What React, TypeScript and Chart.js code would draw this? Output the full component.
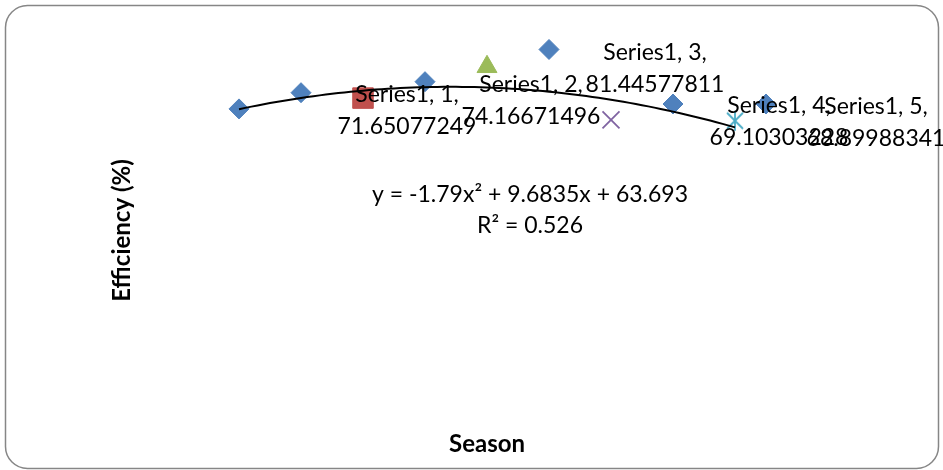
import React, { useEffect, useRef } from "react";
import { Chart, registerables } from "chart.js";

Chart.register(...registerables);

// ---- data ----
const SERIES_NAME = "Series1";
const seasons = [1, 2, 3, 4, 5];
const efficiency = [71.65077249, 74.16671496, 81.44577811, 69.10303228, 68.89988341];
const extraSeasons = [1.5, 2.5, 3.5, 4.5, 5.25];
const extraEfficiency = [75.42, 77.98, 85.47, 72.79, 72.79];
// polynomial trendline as printed on the chart: y = a x^2 + b x + c
const trendA = -1.79;
const trendB = 9.6835;
const trendC = 63.693;
const trendLabel = ["y = -1.79x\u00B2 + 9.6835x + 63.693", "R\u00B2 = 0.526"];
const xTitle = "Season";
const yTitle = "Efficiency (%)";
const xMin = 0;
const xMax = 6;
const yMin = 0;
const yMax = 90;

// ---- styles ----
const BLUE = "#4F81BD";
const RED = "#C0504D";
const GREEN = "#9BBB59";
const PURPLE = "#8064A2";
const CYAN = "#4BACC6";
const FONT = "Lato, 'Open Sans', sans-serif";

function makeStar(color: string): HTMLCanvasElement {
  const c = document.createElement("canvas");
  c.width = 22;
  c.height = 22;
  const g = c.getContext("2d")!;
  g.strokeStyle = color;
  g.lineWidth = 1.8;
  g.beginPath();
  g.moveTo(3, 3);
  g.lineTo(19, 19);
  g.moveTo(19, 3);
  g.lineTo(3, 19);
  g.moveTo(11, 1);
  g.lineTo(11, 21);
  g.stroke();
  return c;
}

const decorPlugin = {
  id: "decor",
  beforeDraw(chart: any) {
    const ctx = chart.ctx;
    ctx.save();
    ctx.fillStyle = "#ffffff";
    ctx.fillRect(0, 0, chart.width, chart.height);
    ctx.strokeStyle = "#868686";
    ctx.lineWidth = 1.5;
    const x0 = 5.5, y0 = 5.5, x1 = chart.width - 4.5, y1 = chart.height - 1.5, r = 22;
    ctx.beginPath();
    ctx.moveTo(x0 + r, y0);
    ctx.lineTo(x1 - r, y0);
    ctx.arcTo(x1, y0, x1, y0 + r, r);
    ctx.lineTo(x1, y1 - r);
    ctx.arcTo(x1, y1, x1 - r, y1, r);
    ctx.lineTo(x0 + r, y1);
    ctx.arcTo(x0, y1, x0, y1 - r, r);
    ctx.lineTo(x0, y0 + r);
    ctx.arcTo(x0, y0, x0 + r, y0, r);
    ctx.closePath();
    ctx.stroke();
    ctx.restore();
  },
  afterDraw(chart: any) {
    const ctx = chart.ctx;
    const area = chart.chartArea;
    const xs = chart.scales.x;
    const ys = chart.scales.y;
    ctx.save();
    ctx.fillStyle = "#000";
    // data labels of Series1
    ctx.font = `23px ${FONT}`;
    ctx.textAlign = "center";
    ctx.textBaseline = "alphabetic";
    seasons.forEach((s, i) => {
      const px = xs.getPixelForValue(s);
      const py = ys.getPixelForValue(efficiency[i]);
      const cx = Math.min(px + 168, chart.width - 67);
      ctx.fillText(`${SERIES_NAME}, ${s},`, cx, py - 6.5);
      ctx.fillText(`${efficiency[i]}`, cx, py + 25.5);
    });
    // trendline equation
    const ex = area.left + 415;
    ctx.fillText(trendLabel[0], ex, area.top + 172);
    ctx.fillText(trendLabel[1], ex, area.top + 203);
    // axis titles
    ctx.font = `bold 24px ${FONT}`;
    ctx.fillText(xTitle, (area.left + area.right) / 2, 452);
    ctx.save();
    ctx.translate(130, (area.top + area.bottom) / 2 + 7);
    ctx.rotate(-Math.PI / 2);
    ctx.fillText(yTitle, 0, 0);
    ctx.restore();
    ctx.restore();
  },
};

export default function App() {
  const ref = useRef<HTMLCanvasElement | null>(null);
  useEffect(() => {
    if (!ref.current) return;
    const trendPts: { x: number; y: number }[] = [];
    const steps = 80;
    for (let k = 0; k <= steps; k++) {
      const x = seasons[0] + ((seasons[seasons.length - 1] - seasons[0]) * k) / steps;
      trendPts.push({ x, y: trendA * x * x + trendB * x + trendC });
    }
    const star = makeStar(CYAN);
    const chart = new Chart(ref.current, {
      type: "scatter",
      data: {
        datasets: [
          {
            label: "Trend",
            data: trendPts,
            showLine: true,
            borderColor: "#000",
            borderWidth: 2,
            pointRadius: 0,
            fill: false,
            order: 0,
          } as any,
          {
            label: SERIES_NAME,
            data: seasons.map((s, i) => ({ x: s, y: efficiency[i] })),
            pointStyle: ["rectRot", "rect", "triangle", "crossRot", star] as any,
            pointRadius: [10, 14.5, 11.5, 12, 11],
            backgroundColor: [BLUE, RED, GREEN, PURPLE, CYAN],
            borderColor: [BLUE, RED, GREEN, PURPLE, CYAN],
            borderWidth: [1, 1, 1, 1.8, 1],
            order: 1,
          } as any,
          {
            label: "Series1b",
            data: extraSeasons.map((s, i) => ({ x: s, y: extraEfficiency[i] })),
            pointStyle: "rectRot",
            pointRadius: 10,
            backgroundColor: BLUE,
            borderColor: BLUE,
            borderWidth: 1,
            order: 2,
          } as any,
        ],
      },
      options: {
        animation: false,
        responsive: false,
        layout: { padding: { left: 115, right: 84, top: 30, bottom: 53 } },
        plugins: { legend: { display: false }, tooltip: { enabled: false } },
        scales: {
          x: { type: "linear", min: xMin, max: xMax, display: false },
          y: { type: "linear", min: yMin, max: yMax, display: false },
        },
      },
      plugins: [decorPlugin],
    });
    return () => chart.destroy();
  }, []);
  return (
    <div style={{ position: "fixed", left: 0, top: 0, width: 943, height: 470 }}>
      <canvas ref={ref} width={943} height={470} style={{ display: "block" }} />
    </div>
  );
}
